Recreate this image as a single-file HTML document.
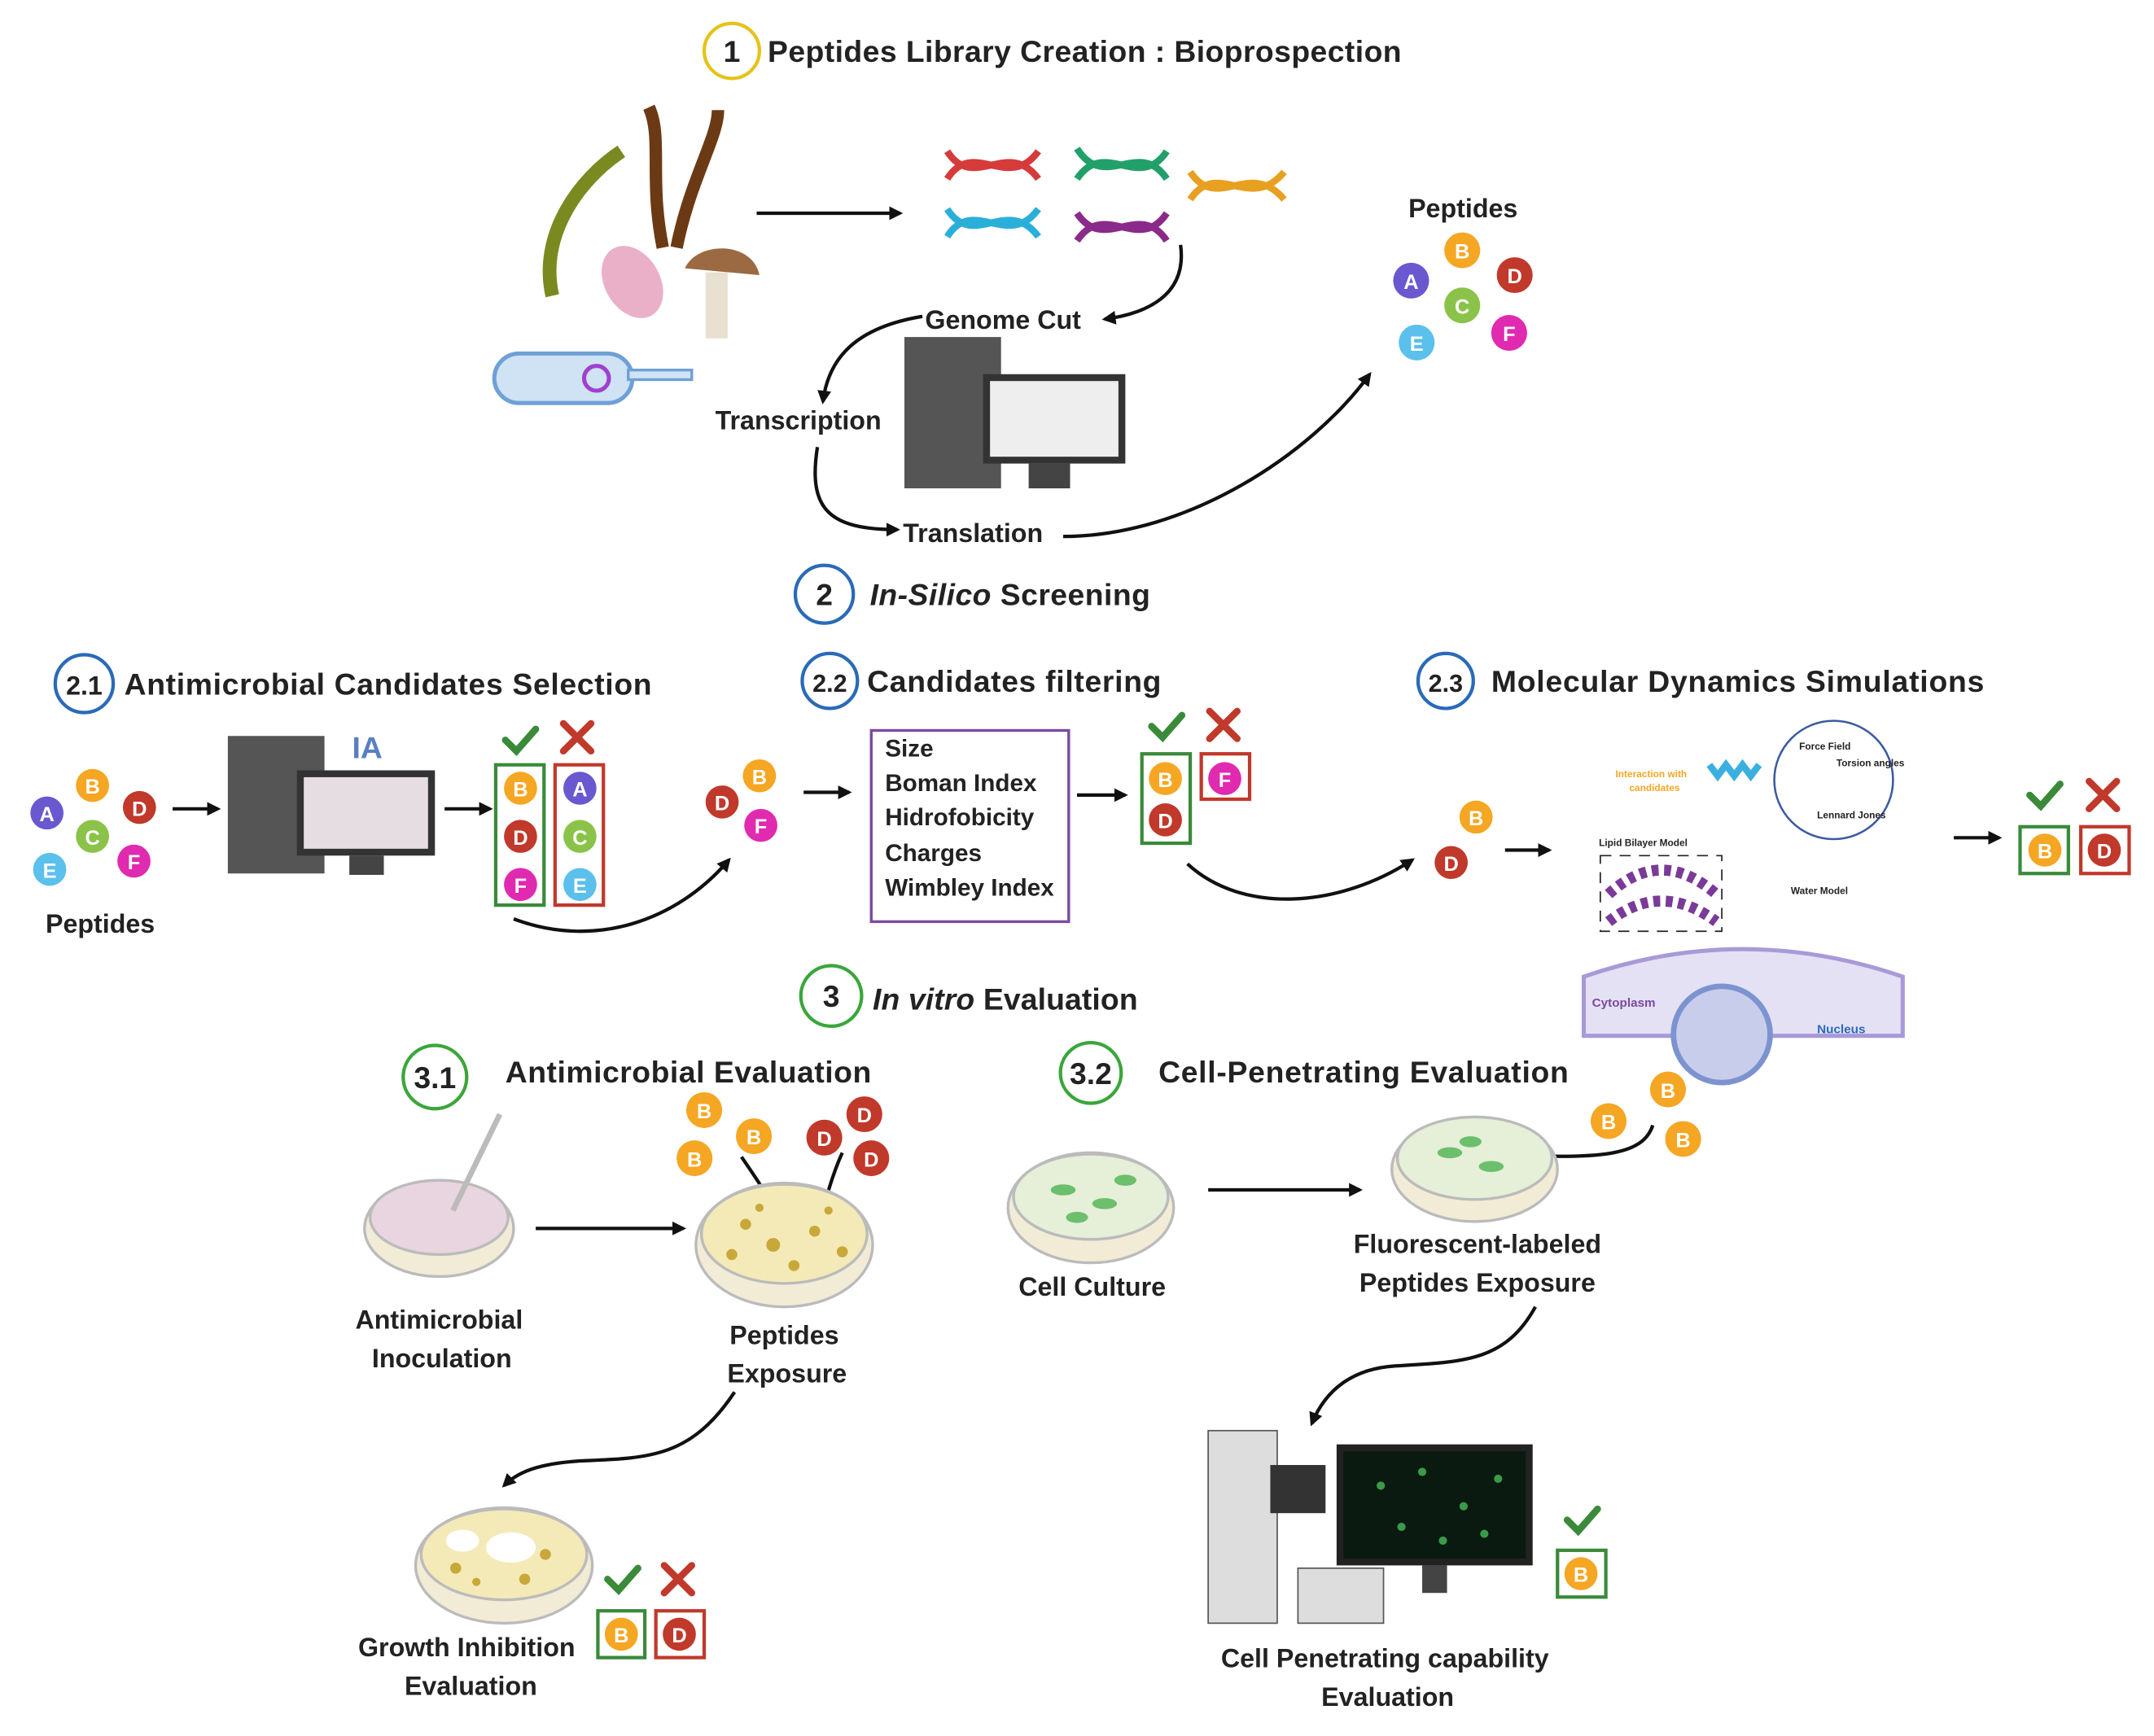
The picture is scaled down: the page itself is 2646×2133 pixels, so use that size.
<!DOCTYPE html>
<html><head><meta charset="utf-8"><style>
html,body{margin:0;padding:0;background:#fff}
svg{display:block}
text{font-family:"Liberation Sans",sans-serif;font-weight:bold;fill:#222}
.p text{fill:#fff;font-size:15px;text-anchor:middle}
</style></head><body>
<svg width="2646" height="2133" viewBox="0 0 1560 1262" preserveAspectRatio="none" xmlns="http://www.w3.org/2000/svg">
<defs>
<marker id="ar" markerWidth="10" markerHeight="10" refX="8" refY="5" orient="auto" markerUnits="userSpaceOnUse"><path d="M0,0 L10,5 L0,10 z" fill="#111"/></marker>
</defs>
<g fill="none" stroke="#111" stroke-width="2.5">
<circle cx="530" cy="37" r="20" stroke="#e6c21b"/>
<circle cx="597" cy="432" r="21" stroke="#2a6ab8"/>
<circle cx="61" cy="497" r="21" stroke="#2a6ab8"/>
<circle cx="601" cy="495" r="20" stroke="#2a6ab8"/>
<circle cx="1047" cy="495" r="20" stroke="#2a6ab8"/>
<circle cx="602" cy="724" r="22" stroke="#3aa63a"/>
<circle cx="315" cy="783" r="23" stroke="#3aa63a"/>
<circle cx="790" cy="780" r="22" stroke="#3aa63a"/>
</g>
<g font-size="22">
<text x="530" y="45" text-anchor="middle">1</text>
<text x="556" y="45" textLength="459">Peptides Library Creation : Bioprospection</text>
<text x="597" y="440" text-anchor="middle">2</text>
<text x="630" y="440" textLength="203"><tspan font-style="italic">In-Silico</tspan> Screening</text>
<text x="61" y="505" text-anchor="middle" font-size="19">2.1</text>
<text x="90" y="505" textLength="382">Antimicrobial Candidates Selection</text>
<text x="601" y="503" text-anchor="middle" font-size="18">2.2</text>
<text x="628" y="503" textLength="213">Candidates filtering</text>
<text x="1047" y="503" text-anchor="middle" font-size="18">2.3</text>
<text x="1080" y="503" textLength="357">Molecular Dynamics Simulations</text>
<text x="602" y="732" text-anchor="middle">3</text>
<text x="632" y="734" textLength="192"><tspan font-style="italic">In vitro</tspan> Evaluation</text>
<text x="315" y="791" text-anchor="middle">3.1</text>
<text x="366" y="787" textLength="265">Antimicrobial Evaluation</text>
<text x="790" y="788" text-anchor="middle">3.2</text>
<text x="839" y="787" textLength="297">Cell-Penetrating Evaluation</text>
</g>
<g font-size="19">
<text x="670" y="239">Genome Cut</text>
<text x="518" y="312">Transcription</text>
<text x="654" y="394">Translation</text>
<text x="1020" y="158">Peptides</text>
<text x="33" y="678">Peptides</text>
<text x="318" y="966" text-anchor="middle">Antimicrobial</text>
<text x="320" y="994" text-anchor="middle">Inoculation</text>
<text x="568" y="977" text-anchor="middle">Peptides</text>
<text x="570" y="1005" text-anchor="middle">Exposure</text>
<text x="791" y="942" text-anchor="middle">Cell Culture</text>
<text x="1070" y="911" text-anchor="middle">Fluorescent-labeled</text>
<text x="1070" y="939" text-anchor="middle">Peptides Exposure</text>
<text x="338" y="1204" text-anchor="middle">Growth Inhibition</text>
<text x="341" y="1232" text-anchor="middle">Evaluation</text>
<text x="1003" y="1212" text-anchor="middle">Cell Penetrating capability</text>
<text x="1005" y="1240" text-anchor="middle">Evaluation</text>
</g>
<rect x="631" y="531" width="143" height="139" fill="none" stroke="#7b4aa0" stroke-width="2"/>
<g font-size="17.5"><text x="641" y="550">Size</text><text x="641" y="575">Boman Index</text><text x="641" y="600">Hidrofobicity</text><text x="641" y="626">Charges</text><text x="641" y="651">Wimbley Index</text></g>
<g fill="none" stroke="#111" stroke-width="2.5" marker-end="url(#ar)">
<path d="M548,155 L652,155"/>
<path d="M855,178 C860,215 830,228 800,232"/>
<path d="M668,230 C620,238 600,260 596,292"/>
<path d="M592,325 C585,370 600,385 650,385"/>
<path d="M770,390 C860,390 950,330 992,272"/>
<path d="M125,588 L158,588"/>
<path d="M322,588 L355,588"/>
<path d="M372,668 C430,690 490,670 528,625"/>
<path d="M582,576 L615,576"/>
<path d="M780,578 L815,578"/>
<path d="M860,628 C900,665 970,660 1023,625"/>
<path d="M1090,618 L1122,618"/>
<path d="M1415,609 L1448,609"/>
<path d="M388,893 L495,893"/>
<path d="M537,841 C550,860 560,875 570,895"/>
<path d="M610,838 C600,860 595,885 588,910"/>
<path d="M875,865 L985,865"/>
<path d="M1197,818 C1190,840 1160,842 1100,840"/>
<path d="M532,1012 C500,1060 470,1060 420,1062 C390,1064 375,1070 365,1080"/>
<path d="M1112,950 C1090,990 1060,990 1010,993 C980,995 960,1010 950,1035"/>
</g>
<g class="p">
<circle cx="1059" cy="182" r="13" fill="#f5a623"/><text x="1059" y="188">B</text>
<circle cx="1097" cy="200" r="13" fill="#c0392b"/><text x="1097" y="206">D</text>
<circle cx="1022" cy="204" r="13" fill="#6a58d0"/><text x="1022" y="210">A</text>
<circle cx="1059" cy="222" r="13" fill="#8bc34a"/><text x="1059" y="228">C</text>
<circle cx="1093" cy="242" r="13" fill="#e02ab0"/><text x="1093" y="248">F</text>
<circle cx="1026" cy="249" r="13" fill="#5bc0eb"/><text x="1026" y="255">E</text>
<circle cx="67" cy="571" r="12" fill="#f5a623"/><text x="67" y="577">B</text>
<circle cx="101" cy="587" r="12" fill="#c0392b"/><text x="101" y="593">D</text>
<circle cx="34" cy="591" r="12" fill="#6a58d0"/><text x="34" y="597">A</text>
<circle cx="67" cy="608" r="12" fill="#8bc34a"/><text x="67" y="614">C</text>
<circle cx="97" cy="626" r="12" fill="#e02ab0"/><text x="97" y="632">F</text>
<circle cx="36" cy="632" r="12" fill="#5bc0eb"/><text x="36" y="638">E</text>
<circle cx="377" cy="573" r="12" fill="#f5a623"/><text x="377" y="579">B</text>
<circle cx="377" cy="608" r="12" fill="#c0392b"/><text x="377" y="614">D</text>
<circle cx="377" cy="643" r="12" fill="#e02ab0"/><text x="377" y="649">F</text>
<circle cx="420" cy="573" r="12" fill="#6a58d0"/><text x="420" y="579">A</text>
<circle cx="420" cy="608" r="12" fill="#8bc34a"/><text x="420" y="614">C</text>
<circle cx="420" cy="643" r="12" fill="#5bc0eb"/><text x="420" y="649">E</text>
<circle cx="550" cy="564" r="12" fill="#f5a623"/><text x="550" y="570">B</text>
<circle cx="523" cy="583" r="12" fill="#c0392b"/><text x="523" y="589">D</text>
<circle cx="551" cy="600" r="12" fill="#e02ab0"/><text x="551" y="606">F</text>
<circle cx="844" cy="566" r="12" fill="#f5a623"/><text x="844" y="572">B</text>
<circle cx="844" cy="596" r="12" fill="#c0392b"/><text x="844" y="602">D</text>
<circle cx="887" cy="566" r="12" fill="#e02ab0"/><text x="887" y="572">F</text>
<circle cx="1069" cy="594" r="12" fill="#f5a623"/><text x="1069" y="600">B</text>
<circle cx="1051" cy="627" r="12" fill="#c0392b"/><text x="1051" y="633">D</text>
<circle cx="1481" cy="618" r="12" fill="#f5a623"/><text x="1481" y="624">B</text>
<circle cx="1524" cy="618" r="12" fill="#c0392b"/><text x="1524" y="624">D</text>
<circle cx="510" cy="807" r="13" fill="#f5a623"/><text x="510" y="813">B</text>
<circle cx="546" cy="826" r="13" fill="#f5a623"/><text x="546" y="832">B</text>
<circle cx="503" cy="842" r="13" fill="#f5a623"/><text x="503" y="848">B</text>
<circle cx="626" cy="810" r="13" fill="#c0392b"/><text x="626" y="816">D</text>
<circle cx="597" cy="827" r="13" fill="#c0392b"/><text x="597" y="833">D</text>
<circle cx="631" cy="842" r="13" fill="#c0392b"/><text x="631" y="848">D</text>
<circle cx="450" cy="1188" r="12" fill="#f5a623"/><text x="450" y="1194">B</text>
<circle cx="492" cy="1188" r="12" fill="#c0392b"/><text x="492" y="1194">D</text>
<circle cx="1208" cy="792" r="13" fill="#f5a623"/><text x="1208" y="798">B</text>
<circle cx="1165" cy="815" r="13" fill="#f5a623"/><text x="1165" y="821">B</text>
<circle cx="1219" cy="828" r="13" fill="#f5a623"/><text x="1219" y="834">B</text>
<circle cx="1145" cy="1144" r="12" fill="#f5a623"/><text x="1145" y="1150">B</text>
</g>
<g fill="none" stroke-width="2.5">
<rect x="359" y="556" width="35" height="102" stroke="#3a8a3a"/>
<rect x="402" y="556" width="35" height="102" stroke="#c0392b"/>
<rect x="827" y="548" width="35" height="65" stroke="#3a8a3a"/>
<rect x="870" y="548" width="35" height="33" stroke="#c0392b"/>
<rect x="1463" y="601" width="35" height="34" stroke="#3a8a3a"/>
<rect x="1507" y="601" width="35" height="34" stroke="#c0392b"/>
<rect x="433" y="1171" width="34" height="34" stroke="#3a8a3a"/>
<rect x="475" y="1171" width="35" height="34" stroke="#c0392b"/>
<rect x="1128" y="1127" width="35" height="34" stroke="#3a8a3a"/>
</g>
<g fill="none" stroke-width="5" stroke-linecap="round">
<path d="M366,538 L374,546 L388,530" stroke="#3a8a3a"/><path d="M408,526 L428,546 M428,526 L408,546" stroke="#c0392b"/>
<path d="M834,528 L842,536 L856,520" stroke="#3a8a3a"/><path d="M876,517 L896,537 M896,517 L876,537" stroke="#c0392b"/>
<path d="M1470,578 L1478,586 L1492,570" stroke="#3a8a3a"/><path d="M1513,568 L1533,588 M1533,568 L1513,588" stroke="#c0392b"/>
<path d="M440,1148 L448,1156 L462,1140" stroke="#3a8a3a"/><path d="M481,1138 L501,1158 M501,1138 L481,1158" stroke="#c0392b"/>
<path d="M1135,1105 L1143,1113 L1157,1097" stroke="#3a8a3a"/>
</g>
<g>
<path d="M400,215 C390,170 420,130 450,110" stroke="#7a8a20" stroke-width="10" fill="none"/>
<path d="M480,180 C470,130 480,100 470,78 M490,180 C500,130 520,100 520,80" stroke="#6b3a14" stroke-width="9" fill="none"/>
<ellipse cx="458" cy="205" rx="20" ry="28" fill="#eab0c8" transform="rotate(-30 458 205)"/>
<path d="M496,195 C505,175 545,175 550,200 z" fill="#9b6a42"/><rect x="511" y="198" width="16" height="48" fill="#e8e0d0"/>
<rect x="358" y="257" width="100" height="36" rx="18" fill="#cfe3f5" stroke="#6fa0d6" stroke-width="3"/>
<rect x="455" y="269" width="46" height="7" fill="#cfe3f5" stroke="#6fa0d6" stroke-width="2"/>
<circle cx="432" cy="275" r="9" fill="none" stroke="#a040d0" stroke-width="3"/>
</g>
<g fill="none" stroke-width="5">
<path d="M686,110 C705,140 730,100 752,130 M686,130 C705,100 730,140 752,110" stroke="#d63b3b"/>
<path d="M780,108 C800,140 825,100 845,130 M780,130 C800,100 825,140 845,110" stroke="#22a06a"/>
<path d="M686,152 C705,182 730,142 752,172 M686,172 C705,142 730,182 752,152" stroke="#2ab0d8"/>
<path d="M780,155 C800,185 825,145 845,175 M780,175 C800,145 825,185 845,155" stroke="#8a2a8a"/>
<path d="M862,125 C882,155 905,115 930,145 M862,145 C882,115 905,155 930,125" stroke="#e8a020"/>
</g>
<rect x="655" y="245" width="70" height="110" fill="#555"/><rect x="712" y="272" width="103" height="65" fill="#333"/><rect x="717" y="277" width="93" height="55" fill="#eee"/><rect x="745" y="337" width="30" height="18" fill="#444"/>
<rect x="165" y="535" width="70" height="100" fill="#555"/><rect x="215" y="560" width="100" height="62" fill="#333"/><rect x="220" y="565" width="90" height="52" fill="#e6dde3"/><rect x="253" y="622" width="25" height="14" fill="#444"/>
<text x="255" y="551" font-size="22" style="fill:#5a7fc0">IA</text>
<path d="M1147,710 Q1262,670 1378,710 L1378,753 L1147,753 z" fill="#e4e1f5" stroke="#a89ad8" stroke-width="3"/>
<circle cx="1247" cy="752" r="35" fill="#c8cdec" stroke="#7c93d0" stroke-width="4"/>
<rect x="1159" y="622" width="88" height="55" fill="none" stroke="#222" stroke-dasharray="8 6"/>
<path d="M1165,650 Q1203,615 1243,650" fill="none" stroke="#7b3a98" stroke-width="8" stroke-dasharray="5 4"/>
<path d="M1165,670 Q1203,640 1243,670" fill="none" stroke="#7b3a98" stroke-width="8" stroke-dasharray="5 4"/>
<circle cx="1328" cy="567" r="43" fill="#fff" stroke="#3b5aa0" stroke-width="1.5"/>
<path d="M1238,556 l6,8 l6,-8 l6,8 l6,-8 l6,8 l6,-8" fill="none" stroke="#3bb0e0" stroke-width="5"/>
<g font-size="7"><text x="1303" y="545">Force Field</text><text x="1330" y="557">Torsion angles</text><text x="1316" y="595">Lennard Jones</text><text x="1158" y="615">Lipid Bilayer Model</text><text x="1297" y="650">Water Model</text>
<text x="1170" y="565" style="fill:#f5a623">Interaction with</text><text x="1180" y="575" style="fill:#f5a623">candidates</text>
<text x="1153" y="732" font-size="9" style="fill:#7b4aa0">Cytoplasm</text><text x="1316" y="751" font-size="9" style="fill:#2a6ab8">Nucleus</text></g>
<g stroke="#bbb" stroke-width="2">
<ellipse cx="318" cy="893" rx="54" ry="35" fill="#f2ecd7"/><ellipse cx="318" cy="885" rx="50" ry="27" fill="#e8d5e0"/>
<ellipse cx="568" cy="905" rx="64" ry="45" fill="#f2ecd7"/><ellipse cx="568" cy="897" rx="60" ry="36" fill="#f4eab8"/>
<ellipse cx="790" cy="878" rx="60" ry="40" fill="#f2ecd7"/><ellipse cx="790" cy="870" rx="56" ry="31" fill="#e6efd8"/>
<ellipse cx="1068" cy="850" rx="60" ry="38" fill="#f2ecd7"/><ellipse cx="1068" cy="842" rx="56" ry="30" fill="#e6efd8"/>
<ellipse cx="365" cy="1138" rx="64" ry="42" fill="#f2ecd7"/><ellipse cx="365" cy="1130" rx="60" ry="33" fill="#f4eab8"/>
</g>
<g fill="#c9a83a">
<circle cx="540" cy="890" r="4"/><circle cx="560" cy="905" r="5"/><circle cx="590" cy="895" r="4"/><circle cx="610" cy="910" r="4"/><circle cx="530" cy="912" r="4"/><circle cx="575" cy="920" r="4"/><circle cx="600" cy="880" r="3"/><circle cx="550" cy="878" r="3"/>
<circle cx="330" cy="1140" r="4"/><circle cx="395" cy="1130" r="4"/><circle cx="345" cy="1150" r="3"/><circle cx="380" cy="1148" r="4"/>
</g>
<g fill="#fff"><ellipse cx="370" cy="1125" rx="18" ry="11"/><ellipse cx="335" cy="1120" rx="12" ry="8"/></g>
<g fill="#6cbf6c"><ellipse cx="770" cy="865" rx="9" ry="4"/><ellipse cx="800" cy="875" rx="9" ry="4"/><ellipse cx="815" cy="858" rx="8" ry="4"/><ellipse cx="780" cy="885" rx="8" ry="4"/>
<ellipse cx="1050" cy="838" rx="9" ry="4"/><ellipse cx="1080" cy="848" rx="9" ry="4"/><ellipse cx="1065" cy="830" rx="8" ry="4"/></g>
<path d="M362,810 L328,880" stroke="#bbb" stroke-width="4"/>
<rect x="968" y="1050" width="142" height="88" fill="#222"/><rect x="973" y="1055" width="132" height="78" fill="#0a1a10"/>
<g fill="#3a9a4a"><circle cx="1000" cy="1080" r="3"/><circle cx="1030" cy="1070" r="3"/><circle cx="1060" cy="1095" r="3"/><circle cx="1085" cy="1075" r="3"/><circle cx="1015" cy="1110" r="3"/><circle cx="1075" cy="1115" r="3"/><circle cx="1045" cy="1120" r="3"/></g>
<rect x="1030" y="1138" width="18" height="20" fill="#444"/>
<rect x="940" y="1140" width="62" height="40" fill="#ddd" stroke="#555"/>
<rect x="875" y="1040" width="50" height="140" fill="#ddd" stroke="#555"/>
<rect x="920" y="1065" width="40" height="35" fill="#333"/>
</svg>
</body></html>
